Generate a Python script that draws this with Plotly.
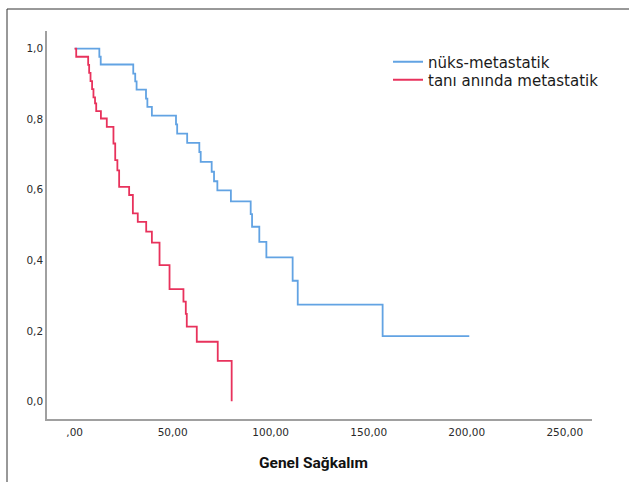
import plotly.graph_objects as go

# Kaplan-Meier step data (time, survival after event)
nuks_time = [0, 12.6, 13.3, 29.9, 30.9, 31.6, 36.4, 37.1, 39.4, 51.7, 52.3, 57.4,
             63.6, 64.3, 69.9, 71.1, 72.8, 79.7, 89.8, 90.5, 94.2, 97.8, 111.2,
             113.8, 157.1, 201.3]
nuks_surv = [1.0, 0.977, 0.955, 0.929, 0.907, 0.884, 0.858, 0.835, 0.810, 0.785,
             0.759, 0.733, 0.707, 0.679, 0.651, 0.624, 0.598, 0.567, 0.531, 0.495,
             0.452, 0.408, 0.342, 0.274, 0.185, 0.185]

tani_time = [0, 0.8, 6.9, 7.4, 8.1, 8.9, 9.6, 10.4, 11.0, 13.4, 16.4, 19.8, 20.7,
             21.8, 22.7, 27.8, 29.7, 32.2, 36.5, 39.4, 43.3, 48.4, 55.5, 56.7,
             57.2, 62.3, 73.0, 80.1]
tani_surv = [1.0, 0.977, 0.954, 0.931, 0.908, 0.885, 0.862, 0.845, 0.823, 0.802,
             0.778, 0.731, 0.684, 0.655, 0.608, 0.585, 0.533, 0.509, 0.481, 0.450,
             0.386, 0.318, 0.283, 0.248, 0.212, 0.169, 0.115, 0.0]

x_tickvals = [0, 50, 100, 150, 200, 250]
x_ticktext = [",00", "50,00", "100,00", "150,00", "200,00", "250,00"]
y_tickvals = [0.0, 0.2, 0.4, 0.6, 0.8, 1.0]
y_ticktext = ["0,0", "0,2", "0,4", "0,6", "0,8", "1,0"]

series_names = ["nüks-metastatik", "tanı anında metastatik"]
colors = ["#62a3e3", "#e8325c"]

W, H = 629, 482
L, R, T, B = 47, 37, 31, 63
pw, ph = W - L - R, H - T - B

fig = go.Figure()
fig.add_trace(go.Scatter(x=nuks_time, y=nuks_surv, mode="lines", line_shape="hv",
                         name=series_names[0], legend="legend",
                         line=dict(color=colors[0], width=1.8)))
fig.add_trace(go.Scatter(x=tani_time, y=tani_surv, mode="lines", line_shape="hv",
                         name=series_names[1], legend="legend2",
                         line=dict(color=colors[1], width=1.8)))

leg_common = dict(xanchor="left", yanchor="middle", bgcolor="rgba(0,0,0,0)",
                  font=dict(size=15, color="#1a1a1a"), itemwidth=30)
fig.update_layout(
    width=W, height=H, autosize=False,
    margin=dict(l=L, r=R, t=T, b=B, pad=0),
    paper_bgcolor="white", plot_bgcolor="white",
    font=dict(family="DejaVu Sans", color="#333333"),
    showlegend=True,
    legend=dict(x=(388 - L) / pw, y=(419 - 62) / ph, **leg_common),
    legend2=dict(x=(388 - L) / pw, y=(419 - 80) / ph, **leg_common),
    xaxis=dict(range=[-14.1, 263.9], tickvals=x_tickvals, ticktext=x_ticktext,
               showgrid=False, zeroline=False, showline=True, linecolor="#a0a0a0",
               linewidth=1.5, ticks="", tickfont=dict(size=10.5, color="#2a2a2a"),
               ticklabelstandoff=3),
    yaxis=dict(range=[-0.05, 1.05], tickvals=y_tickvals, ticktext=y_ticktext,
               showgrid=False, zeroline=False, showline=True, linecolor="#a0a0a0",
               linewidth=1.5, ticks="", tickfont=dict(size=10.5, color="#2a2a2a"),
               ticklabelstandoff=0),
)

fig.add_annotation(text="<b>Genel Sağkalım</b>", xref="paper", yref="paper",
                   x=(313 - L) / pw, y=(419 - 463) / ph, xanchor="center", yanchor="middle",
                   showarrow=False, font=dict(family="Roboto", size=15.5, color="#111111"))

# outer frame (left and top edges)
fx = (7 - L) / pw
fy = (419 - 9) / ph
fig.add_shape(type="line", xref="paper", yref="paper", x0=fx, x1=fx, y0=-0.3, y1=fy,
              line=dict(color="#333333", width=1))
fig.add_shape(type="line", xref="paper", yref="paper", x0=fx, x1=(W - L) / pw, y0=fy, y1=fy,
              line=dict(color="#333333", width=1))

fig.write_html("out.html", config={"displayModeBar": False},
               post_script="document.body.style.margin='0';document.body.style.overflow='hidden';")
